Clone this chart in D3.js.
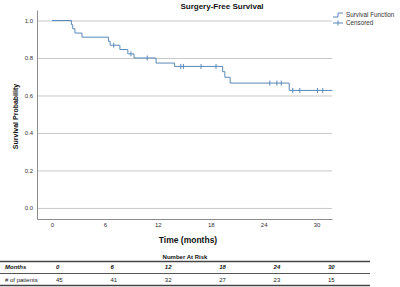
<!DOCTYPE html>
<html><head><meta charset="utf-8">
<script src="https://cdn.jsdelivr.net/npm/d3@7"></script>
<style>body{margin:0;background:#fff;}svg{display:block;font-family:"Liberation Sans",Arial,sans-serif;}</style>
</head><body>
<svg id="c" width="400" height="287"></svg>
<script>
// Kaplan-Meier step data
const eventTimes = [0, 2.2, 2.35, 2.6, 3.4, 6.4, 6.6, 7.7, 8.6, 9.3, 11.8, 13.9, 19.35, 19.6, 20.2, 26.9];
const survival   = [1.0, 0.978, 0.956, 0.933, 0.911, 0.889, 0.868, 0.845, 0.822, 0.800, 0.773, 0.755, 0.727, 0.697, 0.666, 0.627];
const endTime = 31.8;
const censorTimes = [7.0, 8.95, 10.8, 14.6, 14.9, 16.9, 18.6, 24.7, 25.5, 26.0, 27.3, 28.1, 30.1, 30.7];
const xTicks = [0, 6, 12, 18, 24, 30];
const yTicks = [0, 0.2, 0.4, 0.6, 0.8, 1.0];
const riskMonths = [0, 6, 12, 18, 24, 30];
const riskCounts = [45, 41, 32, 27, 23, 15];

const svg = d3.select("#c");
const L = 37, R = 332, T = 10, B = 219;
const x = d3.scaleLinear().domain([-1.7, 31.75]).range([L, R]);
const y = d3.scaleLinear().domain([-0.059, 1.056]).range([B, T]);
const blue = "#5a89b8";

// gridlines
svg.append("g").attr("transform", `translate(${L},0)`)
  .call(d3.axisLeft(y).tickValues(yTicks).tickSize(-(R - L)).tickFormat(""))
  .call(g => g.select(".domain").remove())
  .call(g => g.selectAll("line").attr("stroke", "#c8c8c8").attr("stroke-width", 1));

// y axis
svg.append("g").attr("transform", `translate(${L},0)`)
  .call(d3.axisLeft(y).tickValues(yTicks).tickSize(0).tickPadding(4).tickFormat(d3.format(".1f")).tickSizeOuter(0))
  .call(g => g.select(".domain").attr("stroke", "#8c8c8c"))
  .call(g => g.selectAll("text").attr("font-size", 6).attr("fill", "#333").attr("font-family", "Liberation Sans, Arial, sans-serif"));

// x axis
svg.append("g").attr("transform", `translate(0,${B})`)
  .call(d3.axisBottom(x).tickValues(xTicks).tickSize(0).tickPadding(4).tickSizeOuter(0))
  .call(g => g.select(".domain").attr("stroke", "#8c8c8c"))
  .call(g => g.selectAll("text").attr("font-size", 6).attr("fill", "#333").attr("font-family", "Liberation Sans, Arial, sans-serif"));

// survival curve
const pts = eventTimes.map((t, i) => [t, survival[i]]);
pts.push([endTime, survival[survival.length - 1]]);
const line = d3.line().x(d => x(d[0])).y(d => y(d[1])).curve(d3.curveStepAfter);
svg.append("path").attr("d", line(pts)).attr("fill", "none").attr("stroke", blue).attr("stroke-width", 1);

// censor marks
const sAt = t => { let s = 1; eventTimes.forEach((e, i) => { if (e <= t) s = survival[i]; }); return s; };
svg.append("g").selectAll("line").data(censorTimes).join("line")
  .attr("x1", d => x(d)).attr("x2", d => x(d))
  .attr("y1", d => y(sAt(d)) - 2.5).attr("y2", d => y(sAt(d)) + 2.5)
  .attr("stroke", blue).attr("stroke-width", 1);

// title and labels
svg.append("text").attr("x", 222).attr("y", 9).attr("text-anchor", "middle")
  .attr("font-size", 8).attr("font-weight", "bold").attr("fill", "#111").text("Surgery-Free Survival");
svg.append("text").attr("transform", `translate(18,${(T + B) / 2 + 2}) rotate(-90)`).attr("text-anchor", "middle")
  .attr("font-size", 7).attr("font-weight", "bold").attr("fill", "#111").text("Survival Probability");
svg.append("text").attr("x", 188).attr("y", 243).attr("text-anchor", "middle")
  .attr("font-size", 8.5).attr("font-weight", "bold").attr("fill", "#111").text("Time (months)");

// legend
const lg = svg.append("g");
lg.append("path").attr("d", "M333,17H338V13H343").attr("fill", "none").attr("stroke", blue).attr("stroke-width", 1);
lg.append("path").attr("d", "M333,23H343M338,20.5V25.5").attr("fill", "none").attr("stroke", blue).attr("stroke-width", 1);
lg.append("text").attr("x", 346).attr("y", 17).attr("font-size", 6.3).attr("fill", "#333").text("Survival Function");
lg.append("text").attr("x", 346).attr("y", 25).attr("font-size", 6.3).attr("fill", "#333").text("Censored");

// number at risk table
svg.append("text").attr("x", 185).attr("y", 259).attr("text-anchor", "middle")
  .attr("font-size", 6).attr("font-weight", "bold").attr("fill", "#111").text("Number At Risk");
const col = d3.scalePoint().domain(riskMonths).range([56, 328]);
svg.append("line").attr("x1", 0).attr("x2", 370).attr("y1", 261.5).attr("y2", 261.5).attr("stroke", "#444").attr("stroke-width", 1.5);
svg.append("line").attr("x1", 0).attr("x2", 370).attr("y1", 273.5).attr("y2", 273.5).attr("stroke", "#555").attr("stroke-width", 1);
svg.append("line").attr("x1", 0).attr("x2", 370).attr("y1", 285.5).attr("y2", 285.5).attr("stroke", "#444").attr("stroke-width", 1.5);
svg.append("text").attr("x", 5).attr("y", 269).attr("font-size", 6).attr("font-weight", "bold").attr("font-style", "italic").attr("fill", "#111").text("Months");
svg.append("text").attr("x", 5).attr("y", 281.5).attr("font-size", 6).attr("fill", "#222").text("# of patients");
svg.append("g").selectAll("text").data(riskMonths).join("text")
  .attr("x", d => col(d)).attr("y", 269).attr("font-size", 6).attr("font-weight", "bold").attr("font-style", "italic").attr("fill", "#111").text(d => d);
svg.append("g").selectAll("text").data(riskCounts).join("text")
  .attr("x", (d, i) => col(riskMonths[i])).attr("y", 281.5).attr("font-size", 6).attr("fill", "#222").text(d => d);
</script>
</body></html>
